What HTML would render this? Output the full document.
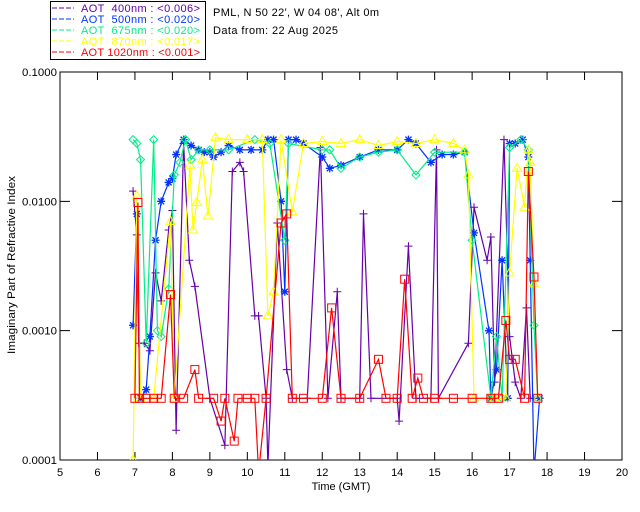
<!DOCTYPE html>
<html><head><meta charset="utf-8"><style>
body{margin:0;background:#fff;}
svg{display:block;font-family:"Liberation Sans",sans-serif;}
</style></head><body>
<svg id="chart" width="640" height="512"></svg>
<script>
const xTicks=[5,6,7,8,9,10,11,12,13,14,15,16,17,18,19,20];
const yTicks=[0.0001,0.001,0.01,0.1];
const yTickLabels=["0.0001","0.0010","0.0100","0.1000"];
const t400=[6.95,7.05,7.1,7.25,7.4,7.55,7.7,7.9,8.0,8.1,8.3,8.45,8.6,9.0,9.4,9.6,9.8,9.9,10.2,10.3,10.5,10.55,10.8,11.05,11.2,11.6,11.95,12.15,12.4,12.5,13.0,13.1,13.3,14.0,14.05,14.3,14.5,14.9,15.05,15.1,15.9,16.05,16.4,16.5,16.6,16.85,17.0,17.15,17.3,17.45,17.55,17.8];
const v400=[0.012,0.0055,0.0008,0.0008,0.0007,0.0028,0.0017,0.006,0.0085,0.00017,0.028,0.0035,0.0022,0.0003,0.00013,0.017,0.02,0.017,0.0013,0.0013,0.0003,0.00009,0.0068,0.0005,0.0003,0.0003,0.026,0.0003,0.002,0.0003,0.0003,0.008,0.0003,0.0003,0.0002,0.0045,0.0003,0.0003,0.025,0.0003,0.0008,0.009,0.0035,0.0053,0.0004,0.03,0.0009,0.0004,0.0003,0.0015,0.0003,0.0003];
const t500=[6.95,7.05,7.15,7.3,7.4,7.55,7.7,7.9,8.0,8.1,8.3,8.5,8.7,8.85,9.0,9.1,9.3,9.5,9.8,10.1,10.4,10.55,10.7,10.9,11.0,11.1,11.3,11.5,12.0,12.2,12.5,13.0,13.5,14.0,14.3,14.5,14.9,15.2,15.5,15.8,16.05,16.45,16.5,16.65,16.8,16.95,17.0,17.15,17.35,17.5,17.55,17.65,17.8];
const v500=[0.0011,0.008,0.0003,0.00035,0.0009,0.005,0.01,0.014,0.015,0.023,0.03,0.027,0.025,0.024,0.024,0.022,0.024,0.027,0.025,0.025,0.025,0.03,0.03,0.01,0.002,0.03,0.03,0.028,0.022,0.018,0.019,0.022,0.025,0.025,0.03,0.028,0.02,0.023,0.023,0.024,0.0057,0.001,0.0003,0.0005,0.0035,0.0003,0.028,0.028,0.03,0.022,0.0035,0.00008,0.0003];
const t675=[6.95,7.05,7.15,7.3,7.5,7.6,7.7,7.9,8.05,8.2,8.35,8.5,8.7,9.0,9.5,10.2,10.6,11.0,11.1,12.0,12.2,12.5,13.0,13.5,14.0,14.5,15.0,15.8,16.0,16.5,16.65,16.8,17.0,17.3,17.5,17.65,17.75];
const v675=[0.03,0.028,0.021,0.0008,0.03,0.001,0.0009,0.0021,0.016,0.02,0.03,0.021,0.025,0.025,0.025,0.03,0.028,0.005,0.028,0.025,0.025,0.018,0.022,0.024,0.025,0.016,0.024,0.024,0.005,0.0003,0.0009,0.0003,0.026,0.03,0.025,0.0011,0.0003];
const t870=[6.95,7.05,7.15,7.5,7.95,8.05,8.47,8.55,8.65,8.8,8.95,9.15,9.5,10.0,10.4,10.55,10.7,10.9,11.2,11.5,12.0,12.5,13.0,13.5,14.0,14.5,15.0,15.5,15.8,15.9,16.05,16.6,16.9,17.0,17.2,17.4,17.5,17.55,17.65,17.75];
const v870=[0.0001,0.011,0.0003,0.0003,0.007,0.0003,0.019,0.006,0.0098,0.021,0.0077,0.031,0.03,0.03,0.03,0.0013,0.002,0.03,0.0083,0.028,0.029,0.028,0.03,0.027,0.029,0.028,0.03,0.028,0.025,0.016,0.0003,0.0003,0.0003,0.0028,0.018,0.009,0.025,0.02,0.0023,0.0003];
const t1020=[7.0,7.08,7.12,7.3,7.5,7.7,7.95,8.05,8.3,8.6,8.7,9.1,9.3,9.4,9.65,9.75,10.0,10.2,10.3,10.5,10.9,11.05,11.2,11.5,12.0,12.25,12.5,13.0,13.5,13.7,14.0,14.2,14.4,14.55,14.7,15.0,15.5,16.0,16.5,16.7,16.9,17.0,17.15,17.4,17.5,17.65,17.75];
const v1020=[0.0003,0.0098,0.0003,0.0003,0.0003,0.0003,0.0019,0.0003,0.0003,0.0005,0.0003,0.0003,0.0002,0.0003,0.00014,0.0003,0.0003,0.0003,0.00008,0.0003,0.0068,0.008,0.0003,0.0003,0.0003,0.0015,0.0003,0.0003,0.0006,0.0003,0.0003,0.0025,0.0003,0.00043,0.0003,0.0003,0.0003,0.0003,0.0003,0.0003,0.0012,0.0006,0.0006,0.0003,0.017,0.0026,0.0003];

const L=60,R=622,T=72,B=460;
const NS="http://www.w3.org/2000/svg";
const svg=document.getElementById('chart');
function xs(h){return L+(h-5)/15*(R-L);}
function ys(v){return T+(-1-Math.log10(v))/3*(B-T);}
function mk(tag,attrs,parent){const e=document.createElementNS(NS,tag);for(const k in attrs)e.setAttribute(k,attrs[k]);(parent||svg).appendChild(e);return e;}

const defs=mk('defs',{});
const cp=mk('clipPath',{id:'clip'},defs);
mk('rect',{x:L,y:T,width:R-L,height:B-T},cp);

const frame=mk('rect',{x:L,y:T,width:R-L,height:B-T,fill:'none',stroke:'#000','stroke-width':1});



xTicks.forEach(h=>{
  const x=xs(h);
  const tk=mk('path',{d:`M${x},${B}V${B-8}M${x},${T}V${T+8}`,stroke:'#000'});
  
  
  const tx=mk('text',{x:x,y:B+16,'font-size':11,'text-anchor':'middle'});
  tx.textContent=h;
  
  
});
yTicks.forEach((v,i)=>{
  const y=ys(v);
  const tk=mk('path',{d:`M${L},${y}H${L+10}M${R},${y}H${R-10}`,stroke:'#000'});
  
  
  const tx=mk('text',{x:L-3,y:y+4,'font-size':11,'text-anchor':'end',textLength:35,lengthAdjust:'spacingAndGlyphs'});
  tx.textContent=yTickLabels[i];
  
  
});

const g=mk('g',{'clip-path':'url(#clip)'});



function marker(type,x,y,c,p){
  let e;
  if(type==='plus')e=mk('path',{d:`M${x-4},${y}H${x+4}M${x},${y-4}V${y+4}`,stroke:c,fill:'none'},p);
  else if(type==='star')e=mk('path',{d:`M${x-4},${y}H${x+4}M${x},${y-4}V${y+4}M${x-3},${y-3}L${x+3},${y+3}M${x-3},${y+3}L${x+3},${y-3}`,stroke:c,fill:'none','stroke-width':1.3},p);
  else if(type==='diamond')e=mk('path',{d:`M${x},${y-4}L${x+4},${y}L${x},${y+4}L${x-4},${y}Z`,stroke:c,fill:'none'},p);
  else if(type==='tri')e=mk('path',{d:`M${x},${y-5}L${x+4.5},${y+3}L${x-4.5},${y+3}Z`,stroke:c,fill:'none'},p);
  else e=mk('rect',{x:x-4,y:y-4,width:8,height:8,stroke:c,fill:'none'},p);
  return e;
}
const series=[
  {n:'aot-400',t:t400,v:v400,c:'#6600aa',m:'plus'},
  {n:'aot-500',t:t500,v:v500,c:'#0033ff',m:'star'},
  {n:'aot-675',t:t675,v:v675,c:'#00ee88',m:'diamond'},
  {n:'aot-870',t:t870,v:v870,c:'#ffff00',m:'tri'},
  {n:'aot-1020',t:t1020,v:v1020,c:'#ff0000',m:'square'}
];
series.forEach(s=>{
  const d=s.t.map((h,i)=>(i?'L':'M')+xs(h).toFixed(1)+','+ys(s.v[i]).toFixed(1)).join('');
  const ln=mk('path',{d:d,stroke:s.c,fill:'none','stroke-width':1.2},g);
  
  
  s.t.forEach((h,i)=>{
    const m=marker(s.m,xs(h),ys(s.v[i]),s.c,g);
    
    
  });
});

const xl=mk('text',{x:(L+R)/2,y:490,'font-size':11,'text-anchor':'middle'});
xl.textContent='Time (GMT)';


const yl=mk('text',{x:0,y:0,'font-size':11,'text-anchor':'middle',transform:'translate(15,265) rotate(-90)',textLength:178,lengthAdjust:'spacingAndGlyphs'});
yl.textContent='Imaginary Part of Refractive Index';



const lg=mk('g',{});


mk('rect',{x:50.5,y:1.5,width:155,height:58,fill:'none',stroke:'#000'},lg);
const legTexts=['AOT  400nm : <0.006>','AOT  500nm : <0.020>','AOT  675nm : <0.020>','AOT  870nm : <0.017>','AOT 1020nm : <0.001>'];
series.forEach((s,i)=>{
  const y=11+i*11;
  const d=mk('path',{d:`M52,${y-3}H74`,stroke:s.c,'stroke-dasharray':'5,2'},lg);
  
  
  const t=mk('text',{x:81,y:y+1,'font-size':11,fill:s.c,textLength:119,lengthAdjust:'spacing'},lg);
  t.style.whiteSpace='pre';
  t.textContent=legTexts[i];
  
  
});
const t1=mk('text',{x:213,y:16,'font-size':11,textLength:166,lengthAdjust:'spacing'});
t1.textContent="PML, N 50 22', W 04 08', Alt 0m";


const t2=mk('text',{x:213,y:34,'font-size':11,textLength:125,lengthAdjust:'spacing'});
t2.textContent='Data from: 22 Aug 2025';


</script>
</body></html>
